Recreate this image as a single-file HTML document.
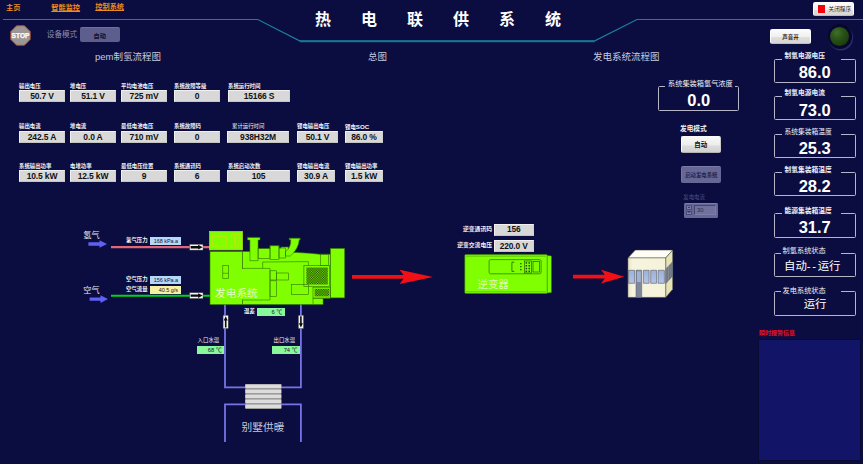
<!DOCTYPE html>
<html lang="zh"><head><meta charset="utf-8"><title>热电联供系统</title>
<style>
html,body{margin:0;padding:0;}
body{width:863px;height:464px;overflow:hidden;background:#0b0d40;position:relative;font-family:"Liberation Sans","Noto Sans CJK SC",sans-serif;color:#fff;}
.a{position:absolute;white-space:nowrap;line-height:1;}
.nav{color:#f08a1c;font-size:7.2px;font-weight:bold;top:3px;}
.nav.u{text-decoration:underline;}
.sec{color:#c8cadc;font-size:9.5px;top:51.6px;}
.lb{font-size:5.4px;font-weight:bold;color:#f4f4f8;}
.bx{background:#d8d8d8;border:1px solid #f0f0f0;border-bottom-color:#c4c4c4;border-right-color:#cfcfcf;box-sizing:border-box;color:#121212;font-weight:bold;font-size:8.5px;letter-spacing:-.15px;text-align:center;height:12px;line-height:10px;}
.sv{box-sizing:border-box;color:#15152a;font-size:5.4px;text-align:right;padding-right:3px;height:8px;line-height:8px;}
.fs{border:1.4px solid #b6b6c8;border-radius:1.5px;box-sizing:border-box;}
.lg{background:#0b0d40;font-size:8px;color:#f0f0f6;padding:0 0 0 2px;text-align:left;height:10px;line-height:10px;box-sizing:border-box;}
.val{font-size:16.5px;font-weight:bold;color:#fff;text-align:center;}
.val2{font-size:11.4px;color:#fff;text-align:center;}
.btn{box-sizing:border-box;border-radius:2px;text-align:center;font-size:6.5px;}
</style></head><body>

<!-- nav -->
<div class="a nav" style="left:6px;top:4.4px">主页</div>
<div class="a nav u" style="left:51.3px;top:4.2px">智能监控</div>
<div class="a nav u" style="left:95.3px;top:3.2px">控制系统</div>

<!-- header line -->
<svg class="a" style="left:0;top:0" width="863" height="60"><polyline points="3,19.5 257.8,19.5 300.1,41.1 594.3,41.1 637,19.5 863,19.5" fill="none" stroke="#1c7e9e" stroke-width="1.2"/><line x1="300" y1="41.2" x2="594.4" y2="41.2" stroke="#1c7494" stroke-width="1.9"/></svg>

<!-- title -->
<div class="a" style="left:315px;top:12.4px;font-size:16px;font-weight:bold;letter-spacing:30px;color:#fff">热电联供系统</div>

<!-- stop -->
<svg class="a" style="left:10.4px;top:24.5px" width="21" height="21" viewBox="0 0 21 21"><polygon points="6.6,.8 14.4,.8 20.2,6.6 20.2,14.4 14.4,20.2 6.6,20.2 .8,14.4 .8,6.6" fill="#9c9796" stroke="#b8562e" stroke-width=".9"/><text x="10.5" y="13" font-size="6.6" font-weight="bold" fill="#fff" stroke="#fff" stroke-width=".25" text-anchor="middle" font-family="Liberation Sans, sans-serif">STOP</text></svg>
<div class="a" style="left:46.8px;top:30.6px;font-size:7.6px;color:#8c8daa">设备模式</div>
<div class="a btn" style="left:79.5px;top:27.3px;width:40.5px;height:14.6px;background:#5d5e8d;color:#0e0e2e;line-height:15.2px;font-size:6.2px;font-weight:bold;border-top:1px solid #6e6f9c;box-sizing:border-box">自动</div>

<div class="a sec" style="left:95px">pem制氢流程图</div>
<div class="a sec" style="left:368px">总图</div>
<div class="a sec" style="left:593px">发电系统流程图</div>

<!-- data grid row1 -->
<div class="a lb" style="left:19px;top:83.5px">输出电压</div><div class="a bx" style="left:19px;top:90px;width:46px">50.7 V</div>
<div class="a lb" style="left:70px;top:83.5px">堆电压</div><div class="a bx" style="left:70px;top:90px;width:46px">51.1 V</div>
<div class="a lb" style="left:121px;top:83.5px">平均电池电压</div><div class="a bx" style="left:121px;top:90px;width:46px">725 mV</div>
<div class="a lb" style="left:174px;top:83.5px">系统故障等级</div><div class="a bx" style="left:174px;top:90px;width:46px">0</div>
<div class="a lb" style="left:228px;top:83.5px">系统运行时间</div><div class="a bx" style="left:228px;top:90px;width:62px">15166 S</div>
<!-- row2 -->
<div class="a lb" style="left:19px;top:124px">输出电流</div><div class="a bx" style="left:19px;top:130.7px;width:46px">242.5 A</div>
<div class="a lb" style="left:70px;top:124px">堆电流</div><div class="a bx" style="left:70px;top:130.7px;width:46px">0.0 A</div>
<div class="a lb" style="left:121px;top:124px">最低电池电压</div><div class="a bx" style="left:121px;top:130.7px;width:46px">710 mV</div>
<div class="a lb" style="left:174px;top:124px">系统故障码</div><div class="a bx" style="left:174px;top:130.7px;width:46px">0</div>
<div class="a lb" style="left:232px;top:124px;font-weight:normal">累计运行时间</div><div class="a bx" style="left:227px;top:130.7px;width:62px">938H32M</div>
<div class="a lb" style="left:297px;top:124px">锂电输出电压</div><div class="a bx" style="left:297px;top:130.7px;width:41px">50.1 V</div>
<div class="a lb" style="left:345px;top:124px">锂电<span style="font-size:6.2px">SOC</span></div><div class="a bx" style="left:345px;top:130.7px;width:38px">86.0 %</div>
<!-- row3 -->
<div class="a lb" style="left:19px;top:163.6px">系统输出功率</div><div class="a bx" style="left:19px;top:170px;width:46px">10.5 kW</div>
<div class="a lb" style="left:70px;top:163.6px">电堆功率</div><div class="a bx" style="left:70px;top:170px;width:46px">12.5 kW</div>
<div class="a lb" style="left:121px;top:163.6px">最低电压位置</div><div class="a bx" style="left:121px;top:170px;width:46px">9</div>
<div class="a lb" style="left:174px;top:163.6px">系统通讯码</div><div class="a bx" style="left:174px;top:170px;width:46px">6</div>
<div class="a lb" style="left:228px;top:163.6px">系统启动次数</div><div class="a bx" style="left:227px;top:170px;width:63px">105</div>
<div class="a lb" style="left:297px;top:163.6px">锂电输出电流</div><div class="a bx" style="left:297px;top:170px;width:38px">30.9 A</div>
<div class="a lb" style="left:345px;top:163.6px">锂电输出功率</div><div class="a bx" style="left:345px;top:170px;width:38px">1.5 kW</div>

<!-- FLOW -->
<svg class="a" style="left:0;top:200px" width="863" height="264" viewBox="0 200 863 264">
<!-- gas lines -->
<line x1="111" y1="247.1" x2="210" y2="247.1" stroke="#e0667a" stroke-width="2.1"/>
<line x1="111" y1="295.8" x2="210" y2="295.8" stroke="#00d41c" stroke-width="2.1"/>
<!-- blue arrows -->
<g fill="#6060f2"><polygon points="88.4,242.3 99.5,242.3 99.5,240.2 107,244 99.5,247.8 99.5,245.7 88.4,245.7"/><polygon points="89.6,297.4 100.5,297.4 100.5,295.3 108,299.1 100.5,302.9 100.5,300.8 89.6,300.8"/></g>
<!-- flow indicators -->
<g><rect x="189.7" y="244.3" width="13.3" height="5.8" fill="#f6f6f6" stroke="#444" stroke-width=".4"/><polygon points="190.6,246 198.2,246 198.2,244.8 202.6,247.2 198.2,249.6 198.2,248.4 190.6,248.4" fill="#0a0a0a"/>
<rect x="189.7" y="292.7" width="13.3" height="5.8" fill="#f6f6f6" stroke="#444" stroke-width=".4"/><polygon points="190.6,294.4 198.2,294.4 198.2,293.2 202.6,295.6 198.2,298 198.2,296.8 190.6,296.8" fill="#0a0a0a"/></g>
<!-- water pipes -->
<g fill="none" stroke="#7474e6" stroke-width="1.8"><polyline points="225,304 225,387.3 245.5,387.3"/><polyline points="300.9,304 300.9,387.3 281,387.3"/><polyline points="225,442 225,404.3 245.5,404.3"/><polyline points="300.9,442 300.9,404.3 281,404.3"/></g>
<!-- heat exchanger -->
<g><rect x="245.3" y="384" width="36" height="25" fill="#9c9c9c"/><g fill="#dcdcdc"><rect x="245.3" y="384.6" width="36" height="3.4"/><rect x="245.3" y="389.6" width="36" height="3.4"/><rect x="245.3" y="394.6" width="36" height="3.4"/><rect x="245.3" y="399.6" width="36" height="3.4"/><rect x="245.3" y="404.6" width="36" height="3.4"/></g></g>
<!-- pipe flow arrows -->
<g><rect x="223.1" y="315.3" width="5.1" height="13.2" fill="#f6f6f6" stroke="#444" stroke-width=".4"/><polygon points="224.9,327.6 224.9,320.6 223.7,320.6 225.7,316.2 227.7,320.6 226.5,320.6 226.5,327.6" fill="#0a0a0a"/>
<rect x="298.4" y="315.3" width="5.1" height="13.2" fill="#f6f6f6" stroke="#444" stroke-width=".4"/><polygon points="300.1,316.2 300.1,323.2 298.9,323.2 300.9,327.6 302.9,323.2 301.7,323.2 301.7,316.2" fill="#0a0a0a"/></g>
<!-- generator -->
<g fill="#7fff00" stroke="#2f7200" stroke-width=".6" stroke-linejoin="miter">
<rect x="210" y="251.5" width="32.5" height="53.1"/>
<path d="M242.5,251.5 H249.9 V240 H247.5 V237.4 H260 V240 H258.1 V248.5 H270 V245.7 H279 V248 H281 V247 H288.3 V252.3 L297.5,252.5 L310,253.3 L319.4,254.2 H330.4 V298.2 H323.1 V304.6 H242.5 Z"/>
<path d="M242.5,269 V299.6" stroke="#7fff00" stroke-width="1.2"/>
<rect x="330.4" y="248.4" width="14.3" height="49.5"/>
<path d="M289.2,238.2 H300.2 V239.8 H299.3 Q298.6,249 290.3,256 H285.5 V251.8 Q291.4,247 290.7,239.8 H289.2 Z"/>
<g fill="none">
<path d="M249.9,251.5 V260.7 H258.1 V248.5"/>
<rect x="258.1" y="248.5" width="11.9" height="10"/><rect x="270" y="245.7" width="9" height="13.7"/><rect x="279" y="248" width="6.5" height="10"/>
<path d="M242.5,268.4 H270 V300 H242.5"/>
<path d="M262.7,268.4 V262 L308.4,261.6 V265.6"/>
<rect x="222.8" y="265.6" width="5.6" height="12.9"/><path d="M222.8,273.3 H228.4"/>
<rect x="270" y="270.8" width="6.4" height="9.2"/><rect x="270" y="280.8" width="6.4" height="15.6"/><rect x="276.4" y="273" width="11.9" height="7"/>
<rect x="291.6" y="284.5" width="16.8" height="10.1"/>
<rect x="320.3" y="254.2" width="8.3" height="11.4"/>
<rect x="303.9" y="265.6" width="25.6" height="20.7"/>
<rect x="313" y="287.2" width="17.4" height="11"/>
<path d="M313,298.2 V304.6 M313,298.2 H323.1"/>
</g>
<rect x="209.6" y="231.4" width="32.9" height="18.5" stroke="#c4de10" stroke-width=".7"/>
<g fill="none" stroke="#d0e018" stroke-width=".6"><rect x="212.3" y="236.3" width="14.3" height="9.7"/><rect x="231.5" y="234.2" width="2.8" height="12.8"/><rect x="235.8" y="234.2" width="3.1" height="12.8"/></g>
</g>
<defs><pattern id="mesh" width="1.7" height="1.7" patternUnits="userSpaceOnUse"><rect width="1.7" height="1.7" fill="#72e800"/><rect width=".85" height=".85" fill="#1c3e00"/><rect x=".85" y=".85" width=".85" height=".85" fill="#1c3e00"/></pattern></defs>
<rect x="306.4" y="267.5" width="21.4" height="17" fill="url(#mesh)"/>
<rect x="314.6" y="288.8" width="14.8" height="7.6" fill="url(#mesh)"/>
<text x="215" y="296.6" font-size="10.7" fill="#e4ffc8" font-family="Liberation Sans, Noto Sans CJK SC, sans-serif">发电系统</text>
<!-- red arrows -->
<g fill="#f01016"><polygon points="352,275 403.5,275 399.6,269.7 433,276.9 399.6,284.1 403.5,278.8 352,278.8"/><polygon points="573,274.8 604.8,274.8 601,269.8 624.3,276.7 601,283.6 604.8,278.6 573,278.6"/></g>
<!-- inverter -->
<g><polygon points="547,255.4 551.4,256 551.4,292.4 547,293" fill="#7fff00" stroke="#3a8200" stroke-width=".5"/>
<rect x="464.8" y="254.6" width="82.4" height="38.9" rx="1" fill="#7fff00" stroke="#3a8200" stroke-width=".6"/>
<path d="M466,256.2 H546 M466,291.8 H546" stroke="#3a8200" stroke-width=".45" fill="none"/>
<rect x="489.1" y="259.6" width="52" height="14.2" rx="1.6" fill="none" stroke="#256e00" stroke-width=".7"/>
<path d="M514.3,262.2 h-2.4 v9.2 h2.4" fill="none" stroke="#1a4a00" stroke-width=".7"/>
<g fill="#1a4a00"><rect x="520.2" y="263" width="1.3" height="1.3"/><rect x="520.2" y="266" width="1.3" height="1.3"/><rect x="520.2" y="269" width="1.3" height="1.3"/></g>
<rect x="524.3" y="261" width="7.2" height="12" fill="none" stroke="#1a4a00" stroke-width=".6"/><g fill="#1a4a00"><rect x="525.6" y="262.2" width="1.5" height="1.5"/><rect x="528.5" y="262.2" width="1.5" height="1.5"/><rect x="525.6" y="265" width="1.5" height="1.5"/><rect x="528.5" y="265" width="1.5" height="1.5"/><rect x="525.6" y="267.8" width="1.5" height="1.5"/><rect x="528.5" y="267.8" width="1.5" height="1.5"/><rect x="525.6" y="270.6" width="1.5" height="1.5"/><rect x="528.5" y="270.6" width="1.5" height="1.5"/></g>
<rect x="533" y="261.4" width="6.6" height="10.6" fill="none" stroke="#1a4a00" stroke-width=".6"/>
<text x="477.5" y="288.4" font-size="10.4" fill="#dcffb8" font-family="Liberation Sans, Noto Sans CJK SC, sans-serif">逆变器</text></g>
<!-- building -->
<defs><linearGradient id="bf" x1="0" x2="1" y1="0" y2="0"><stop offset="0" stop-color="#e4e2c4"/><stop offset=".12" stop-color="#f6f4de"/><stop offset="1" stop-color="#f4f2da"/></linearGradient>
<linearGradient id="wg" x1="0" x2="0" y1="0" y2="1"><stop offset="0" stop-color="#9cb0da"/><stop offset="1" stop-color="#b4c4e6"/></linearGradient></defs>
<g stroke="#3c3c30" stroke-width=".45" stroke-linejoin="round">
<polygon points="627.9,257.9 635.3,250.1 672.7,250.1 665.7,257.9" fill="#fdfdf6"/>
<polygon points="665.7,257.9 672.7,250.1 672.7,289.3 665.7,297.4" fill="#e6e2b4"/>
<rect x="627.9" y="257.9" width="37.8" height="39.5" fill="url(#bf)"/>
<g fill="url(#wg)" stroke="#4a4e5a" stroke-width=".55"><rect x="628.6" y="270.3" width="6" height="13"/><rect x="643.4" y="270.3" width="5.7" height="13"/><rect x="650.7" y="270.3" width="5.9" height="13"/><rect x="658.1" y="270.3" width="6.3" height="13"/></g>
<rect x="636" y="270.2" width="5.7" height="27.4" fill="#7e8899" stroke="#4e5664" stroke-width=".5"/>
<rect x="636.9" y="271.4" width="3.9" height="10.6" fill="#a0b2d8" stroke="none"/>
<g fill="#6c7ea8" stroke="#4a4e5a" stroke-width=".4"><polygon points="666.2,268.6 668.2,266.5 668.2,281 666.2,283.3"/><polygon points="668.8,265.8 670.6,263.9 670.6,278.3 668.8,280.3"/><polygon points="671.1,263.3 672.6,261.6 672.6,276 671.1,277.7"/></g>
</g>
</svg>

<!-- flow labels -->
<div class="a" style="left:83.3px;top:231.6px;font-size:8.2px;color:#e8e8f0">氢气</div>
<div class="a" style="left:83.3px;top:286.8px;font-size:8.2px;color:#e8e8f0">空气</div>
<div class="a lb" style="left:126px;top:237.5px">氢气压力</div><div class="a sv" style="left:150px;top:236.6px;width:31px;background:#b4d8fa">168 kPa.a</div>
<div class="a lb" style="left:126px;top:276.8px">空气压力</div><div class="a sv" style="left:150px;top:276px;width:31px;background:#b4d8fa">156 kPa.a</div>
<div class="a lb" style="left:126px;top:287px">空气流量</div><div class="a sv" style="left:150px;top:286px;width:31px;background:#f6f2a4">40.5 g/s</div>
<div class="a lb" style="left:244px;top:309.4px">温差</div><div class="a sv" style="left:257px;top:308.1px;width:27.6px;height:8.3px;line-height:8.5px;background:#88f89a;font-size:5.8px;padding-right:2.4px">6 ℃</div>
<div class="a lb" style="left:197.6px;top:337.7px;font-weight:normal">入口水温</div><div class="a sv" style="left:196.7px;top:346.2px;width:27.4px;height:8px;line-height:8.2px;background:#88f89a;font-size:5.8px;padding-right:2.4px">68 ℃</div>
<div class="a lb" style="left:273.5px;top:337.7px;font-weight:normal">出口水温</div><div class="a sv" style="left:272.3px;top:346.2px;width:27.6px;height:8px;line-height:8.2px;background:#88f89a;font-size:5.8px;padding-right:2.4px">74 ℃</div>
<div class="a" style="left:241.6px;top:422.2px;font-size:10.7px;color:#c8c8da">别墅供暖</div>

<!-- inverter values -->
<div class="a lb" style="right:371px;top:227px;font-size:5.8px">逆变通讯码</div><div class="a bx" style="left:493.6px;top:224.2px;width:40.2px;height:11.8px;line-height:9.8px;font-size:8.4px">156</div>
<div class="a lb" style="right:371px;top:243.4px;font-size:5.8px">逆变交流电压</div><div class="a bx" style="left:493.6px;top:240.2px;width:40.2px;height:12px;line-height:10px;font-size:8.4px">220.0 V</div>

<!-- middle-right controls -->
<div class="a fs" style="left:658px;top:86.1px;width:81.4px;height:25px"></div>
<div class="a lg" style="left:665px;top:78.6px;width:69.5px;font-size:7.2px;padding-left:3px">系统集装箱氢气浓度</div>
<div class="a val" style="left:658px;top:92px;width:81.5px">0.0</div>
<div class="a lb" style="left:680px;top:126.2px;font-size:6.7px">发电模式</div>
<div class="a btn" style="left:680.5px;top:136px;width:40.7px;height:16.6px;background:linear-gradient(#f8f8f8 0,#ececec 55%,#dcdcdc 58%,#d2d2d2 100%);border:1px solid #fafafa;border-bottom-color:#b4b4b4;border-right-color:#c8c8c8;color:#111;font-weight:bold;line-height:15px">自动</div>
<div class="a btn" style="left:680.5px;top:166px;width:40.7px;height:16.5px;background:#666795;color:#25254d;line-height:16.5px;font-size:5.4px;font-weight:bold;border-top:1px solid #7a7ba6;border-left:1px solid #7475a0">启动发电系统</div>
<div class="a" style="left:683.3px;top:195px;font-size:5.4px;color:#4f5080">发电电流</div>
<div class="a" style="left:683.7px;top:203px;width:34.7px;height:14.7px;background:#666795;border-radius:1.5px;border-top:1px solid #7a7ba6;box-sizing:border-box"></div>
<div class="a" style="left:686.3px;top:205.4px;width:6px;height:4.4px;background:#7c7da8;border:.5px solid #4a4b78;box-sizing:border-box"></div>
<div class="a" style="left:686.3px;top:210.5px;width:6px;height:4.4px;background:#7c7da8;border:.5px solid #4a4b78;box-sizing:border-box"></div>
<svg class="a" style="left:686.3px;top:205.4px" width="6" height="10" viewBox="0 0 6 10"><polygon points="3,1.4 4.2,3 1.8,3" fill="#25254d"/><polygon points="3,8.1 4.2,6.5 1.8,6.5" fill="#25254d"/></svg>
<div class="a" style="left:694.4px;top:205.3px;width:22px;height:9.8px;background:#70719d;border:.8px solid #45466f;border-bottom-color:#7c7da8;border-right-color:#7c7da8;box-sizing:border-box;font-size:5.8px;color:#2a2a55;line-height:8.4px;text-indent:1.6px">30</div>

<!-- top-right -->
<div class="a btn" style="left:812.9px;top:1.7px;width:41.4px;height:14.4px;background:linear-gradient(#fbfbfb 0,#efefef 55%,#dedede 58%,#d6d6d6 100%);border:1px solid #fdfdfd;border-bottom-color:#bdbdbd;border-radius:2.2px"></div>
<div class="a" style="left:817.6px;top:5.4px;width:7.2px;height:7.2px;background:#f6000c"></div>
<div class="a" style="left:828.6px;top:6.7px;font-size:5.6px;color:#1c1c1c">关闭程序</div>
<div class="a btn" style="left:770.1px;top:28.6px;width:40.6px;height:15.6px;background:linear-gradient(#fbfbfb 0,#efefef 55%,#dedede 58%,#d6d6d6 100%);border:1px solid #fdfdfd;border-bottom-color:#bdbdbd;border-radius:2.2px;color:#1c1c1c;line-height:15.4px;font-size:5.5px;font-weight:bold">声音开</div>
<div class="a" style="left:827.5px;top:24.2px;width:24.4px;height:24.4px;border-radius:50%;background:#07082b;box-shadow:.8px 1.2px 1.2px #33357c"></div>
<div class="a" style="left:830.2px;top:26.9px;width:19px;height:19px;border-radius:50%;background:radial-gradient(circle at 36% 30%,#41702a 0,#2b5418 35%,#1d3f0f 72%,#142c09 100%)"></div>

<!-- right column -->
<div class="a fs" style="left:774px;top:58.6px;width:81.5px;height:24.5px"></div><div class="a lg" style="left:781.6px;top:50.7px;width:59px;font-size:6.75px;padding-left:3px;font-weight:bold;">制氢电源电压</div><div class="a val" style="left:774px;top:63.6px;width:81.5px">86.0</div>
<div class="a fs" style="left:774px;top:95.7px;width:81.5px;height:24.3px"></div><div class="a lg" style="left:781.6px;top:87.8px;width:59px;font-size:6.75px;padding-left:3px;font-weight:bold;">制氢电源电流</div><div class="a val" style="left:774px;top:101.6px;width:81.5px">73.0</div>
<div class="a fs" style="left:774px;top:133.6px;width:81.5px;height:24.9px"></div><div class="a lg" style="left:781.6px;top:126.8px;width:59px;font-size:6.75px;padding-left:3px;">系统集装箱温度</div><div class="a val" style="left:774px;top:139.8px;width:81.5px">25.3</div>
<div class="a fs" style="left:774px;top:171.6px;width:81.5px;height:24.8px"></div><div class="a lg" style="left:781.6px;top:165px;width:59px;font-size:6.75px;padding-left:3px;font-weight:bold;">制氢集装箱温度</div><div class="a val" style="left:774px;top:177.9px;width:81.5px">28.2</div>
<div class="a fs" style="left:774px;top:212.9px;width:81.5px;height:25.1px"></div><div class="a lg" style="left:781.6px;top:206.2px;width:59px;font-size:6.75px;padding-left:3px;font-weight:bold;">能源集装箱温度</div><div class="a val" style="left:774px;top:219.1px;width:81.5px">31.7</div>
<div class="a fs" style="left:774px;top:253px;width:81.5px;height:24.3px"></div><div class="a lg" style="left:780.6px;top:246.2px;width:60px;font-size:7.2px;">制氢系统状态</div><div class="a val2" style="left:774px;top:261px;width:81.5px"><span style="position:relative;left:-2.5px">自动<span style="letter-spacing:1.6px">--</span>运行</span></div>
<div class="a fs" style="left:774.3px;top:290.5px;width:81.5px;height:25.6px"></div><div class="a lg" style="left:780.6px;top:285.5px;width:60px;font-size:7.2px;">发电系统状态</div><div class="a val2" style="left:774.3px;top:299.3px;width:81.5px">运行</div>

<!-- alarm -->
<div class="a" style="left:759px;top:330px;font-size:6px;font-weight:bold;color:#f0101c">瞬时报警信息</div>
<div class="a" style="left:757.5px;top:339px;width:103.5px;height:121.6px;background:#121567;border:1.5px solid #090b33;box-sizing:border-box"></div>

</body></html>
